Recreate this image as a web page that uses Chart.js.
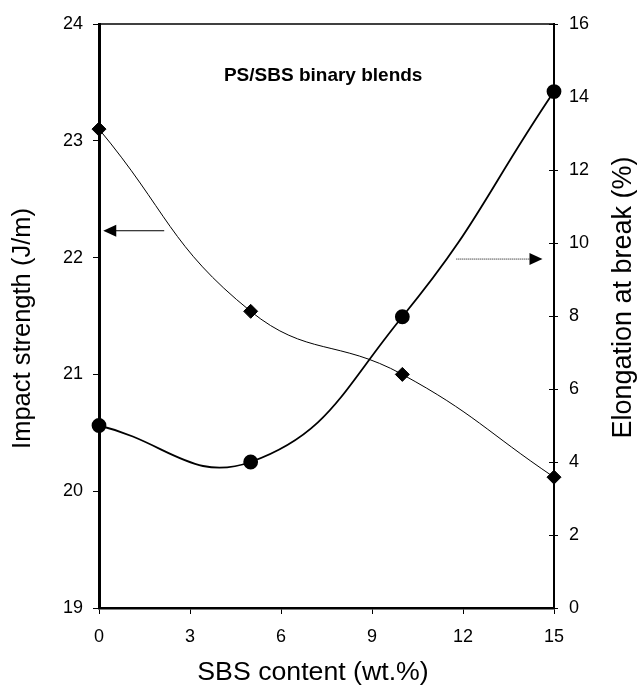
<!DOCTYPE html>
<html><head><meta charset="utf-8">
<script src="https://cdn.jsdelivr.net/npm/chart.js@4"></script>
<style>html,body{margin:0;padding:0;background:#fff}#wrap{width:637px;height:688px;position:relative}</style>
</head><body><div id="wrap"><canvas id="c"></canvas></div>
<script>
// ---- data ----
const sbsContent = [0, 5, 10, 15];
const impactStrength = [23.1, 21.54, 21.0, 20.12];   // J/m, left axis
const elongationAtBreak = [5.0, 4.0, 7.98, 14.15];    // %, right axis
const xTickRange = [0, 15, 3];
const leftTickRange = [19, 24, 1];
const rightTickRange = [0, 16, 2];
const xTitle = 'SBS content (wt.%)';
const leftTitle = 'Impact strength (J/m)';
const rightTitle = 'Elongation at break (%)';
const noteText = 'PS/SBS binary blends';
const noteAt = [7.39, 23.56];
const leftArrow = [2.15, 0.14, 22.23];     // from x, to x, at left-axis y
const rightArrow = [11.78, 14.62, 9.56];   // from x, to x, at right-axis y

const FONT = '"Liberation Sans", Arial, Helvetica, sans-serif';

function arrowHead(ctx, tipX, y, dir) {
  ctx.beginPath();
  ctx.moveTo(tipX, y);
  ctx.lineTo(tipX - dir * 13, y - 6);
  ctx.lineTo(tipX - dir * 13, y + 6);
  ctx.closePath();
  ctx.fill();
}

function vText(ctx, text, cx, cy, size) {
  ctx.save();
  ctx.font = size + 'px ' + FONT;
  ctx.textAlign = 'center'; ctx.textBaseline = 'middle';
  ctx.translate(cx, cy);
  ctx.rotate(-Math.PI / 2);
  ctx.fillText(text, 0, 0);
  ctx.restore();
}

const decor = {
  id: 'decor',
  afterDraw(chart) {
    const { ctx, chartArea: a, scales } = chart;
    const x = scales.x, y = scales.y, y1 = scales.y1;
    ctx.save();
    ctx.strokeStyle = '#000'; ctx.fillStyle = '#000';
    // top frame line
    ctx.lineWidth = 1.5;
    ctx.beginPath(); ctx.moveTo(a.left, a.top); ctx.lineTo(a.right + 1, a.top); ctx.stroke();
    // inner half of right-axis tick marks
    ctx.lineWidth = 1;
    y1.ticks.forEach(t => {
      const py = Math.round(y1.getPixelForValue(t.value)) + 0.5;
      ctx.beginPath(); ctx.moveTo(a.right - 5, py); ctx.lineTo(a.right, py); ctx.stroke();
    });
    // left arrow (solid)
    let ay = y.getPixelForValue(leftArrow[2]);
    let x0 = x.getPixelForValue(leftArrow[0]), x1 = x.getPixelForValue(leftArrow[1]);
    ctx.lineWidth = 1;
    ctx.beginPath(); ctx.moveTo(x0, ay); ctx.lineTo(x1 + 10, ay); ctx.stroke();
    arrowHead(ctx, x1, ay, -1);
    // right arrow (dotted)
    ay = y1.getPixelForValue(rightArrow[2]);
    x0 = x.getPixelForValue(rightArrow[0]); x1 = x.getPixelForValue(rightArrow[1]);
    ctx.setLineDash([1, 1]);
    ctx.beginPath(); ctx.moveTo(x0, ay); ctx.lineTo(x1 - 10, ay); ctx.stroke();
    ctx.setLineDash([]);
    arrowHead(ctx, x1, ay, 1);
    // note text
    ctx.font = 'bold 19px ' + FONT;
    ctx.textAlign = 'center'; ctx.textBaseline = 'middle';
    ctx.fillText(noteText, x.getPixelForValue(noteAt[0]), y.getPixelForValue(noteAt[1]));
    // axis titles
    ctx.font = '26.7px ' + FONT;
    ctx.fillText(xTitle, 313, 673);
    vText(ctx, leftTitle, 23, 328.5, 25.5);
    vText(ctx, rightTitle, 623.5, 297.5, 27);
    ctx.restore();
  }
};

const tickFont = { family: FONT, size: 18 };

new Chart(document.getElementById('c'), {
  type: 'line',
  data: {
    datasets: [
      {
        label: leftTitle,
        data: sbsContent.map((v, i) => ({ x: v, y: impactStrength[i] })),
        yAxisID: 'y',
        borderColor: '#000', borderWidth: 1,
        pointStyle: 'rectRot', pointRadius: 7, pointBackgroundColor: '#000', pointBorderColor: '#000',
        tension: 0.45, clip: false, fill: false
      },
      {
        label: rightTitle,
        data: sbsContent.map((v, i) => ({ x: v, y: elongationAtBreak[i] })),
        yAxisID: 'y1',
        borderColor: '#000', borderWidth: 1.8,
        pointStyle: 'circle', pointRadius: 6.5, pointBackgroundColor: '#000', pointBorderColor: '#000',
        tension: 0.45, clip: false, fill: false
      }
    ]
  },
  options: {
    responsive: true, maintainAspectRatio: false, animation: false,
    devicePixelRatio: 1,
    layout: { padding: { top: 24, left: 0, right: 0, bottom: 0 } },
    plugins: { legend: { display: false }, tooltip: { enabled: false } },
    scales: {
      x: {
        type: 'linear', position: 'bottom',
        min: xTickRange[0], max: xTickRange[1],
        ticks: { stepSize: xTickRange[2], color: '#000', font: tickFont, padding: 12, maxRotation: 0 },
        grid: { drawOnChartArea: false, drawTicks: true, tickLength: 6, color: '#000', lineWidth: 1 },
        border: { display: true, color: '#000', width: 2.5 },
        title: { display: false, text: xTitle },
        afterFit(s) { s.height = 80; }
      },
      y: {
        type: 'linear', position: 'left',
        min: leftTickRange[0], max: leftTickRange[1],
        ticks: { stepSize: leftTickRange[2], color: '#000', font: tickFont, padding: 10 },
        grid: { drawOnChartArea: false, drawTicks: true, tickLength: 6, color: '#000', lineWidth: 1 },
        border: { display: true, color: '#000', width: 3 },
        title: { display: false, text: leftTitle },
        afterFit(s) { s.width = 99; }
      },
      y1: {
        type: 'linear', position: 'right',
        min: rightTickRange[0], max: rightTickRange[1],
        ticks: { stepSize: rightTickRange[2], color: '#000', font: tickFont, padding: 11 },
        grid: { drawOnChartArea: false, drawTicks: true, tickLength: 4, color: '#000', lineWidth: 1 },
        border: { display: true, color: '#000', width: 2 },
        title: { display: false, text: rightTitle },
        afterFit(s) { s.width = 83; }
      }
    }
  },
  plugins: [decor]
});
</script>
</body></html>
